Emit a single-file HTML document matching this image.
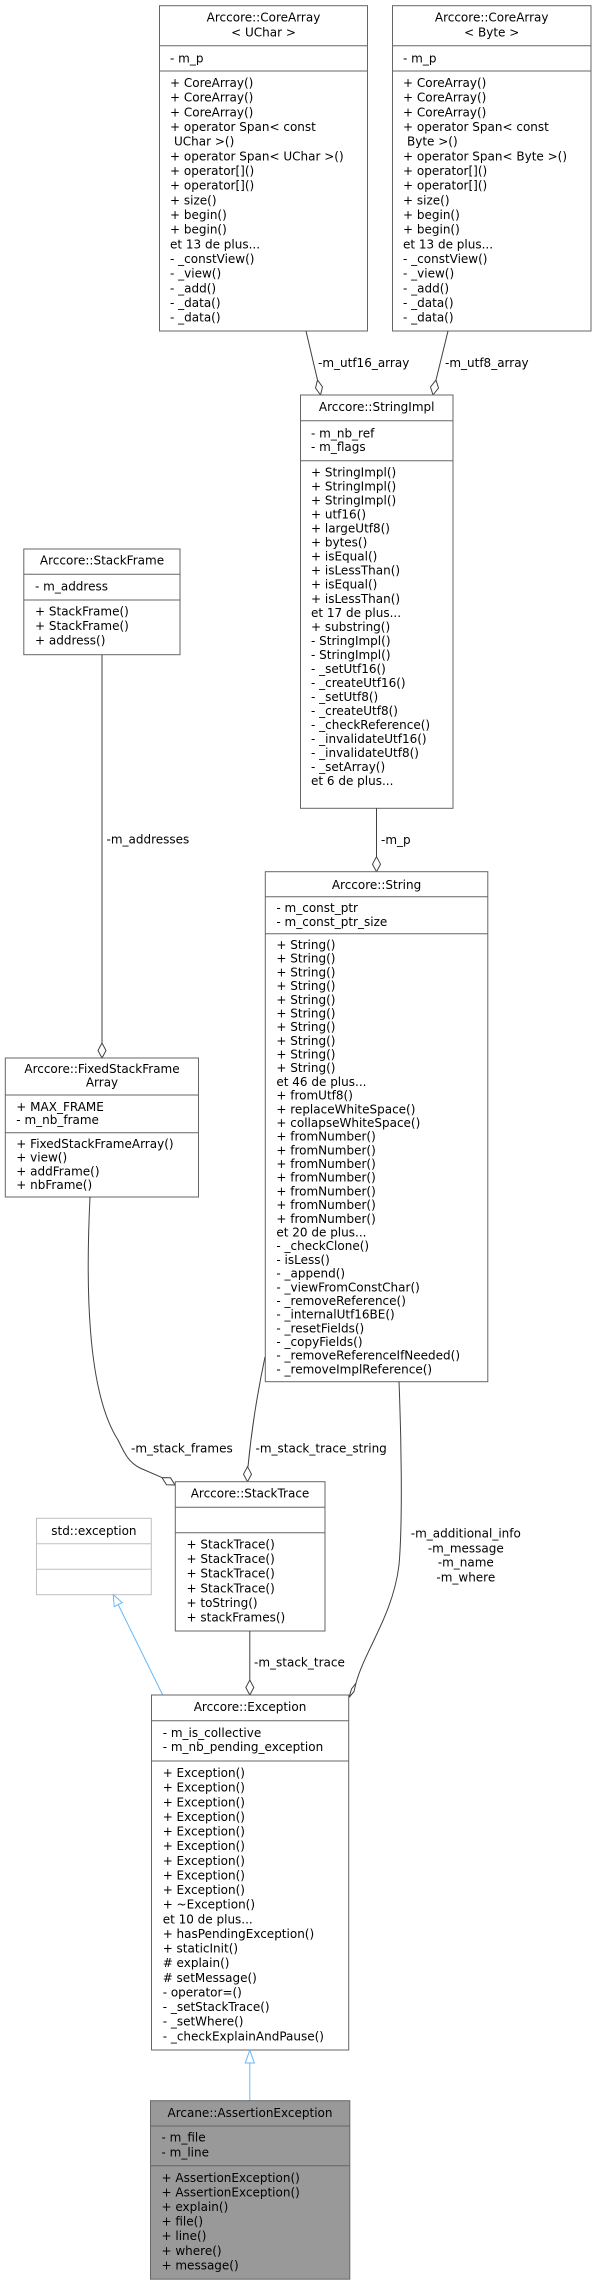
<!DOCTYPE html>
<html><head><meta charset="utf-8"><style>
html,body{margin:0;padding:0;background:#fff;}
svg{display:block;}
text{font-family:"DejaVu Sans","Liberation Sans",sans-serif;font-size:12px;fill:#000;}
.b{fill:#fff;stroke:#666;stroke-width:1;}
.l{stroke:#666;stroke-width:1;}
.e{fill:none;stroke:#404040;stroke-width:1;}
.d{fill:#fff;stroke:#404040;stroke-width:1;}
.bl{fill:none;stroke:#63b8ff;stroke-width:1;}
.bt{fill:#fff;stroke:#63b8ff;stroke-width:1;}
.m{text-anchor:middle;}
</style></head><body>
<svg width="596" height="2285" viewBox="0 0 596 2285" xmlns="http://www.w3.org/2000/svg">

<!-- CoreArray<UChar> -->
<rect class="b" x="159.5" y="5.7" width="208" height="325.3"/>
<line class="l" x1="159.5" y1="45.7" x2="367.5" y2="45.7"/>
<line class="l" x1="159.5" y1="71" x2="367.5" y2="71"/>
<text class="m" x="263.5" y="21.5">Arccore::CoreArray</text>
<text class="m" x="263.5" y="36.5">&lt; UChar &gt;</text>
<text x="170" y="62.5">- m_p</text>
<text x="170" y="87"><tspan x="170">+ CoreArray()</tspan><tspan x="170" dy="14.67">+ CoreArray()</tspan><tspan x="170" dy="14.67">+ CoreArray()</tspan><tspan x="170" dy="14.67">+ operator Span&lt; const</tspan><tspan x="174" dy="14.67">UChar &gt;()</tspan><tspan x="170" dy="14.67">+ operator Span&lt; UChar &gt;()</tspan><tspan x="170" dy="14.67">+ operator[]()</tspan><tspan x="170" dy="14.67">+ operator[]()</tspan><tspan x="170" dy="14.67">+ size()</tspan><tspan x="170" dy="14.67">+ begin()</tspan><tspan x="170" dy="14.67">+ begin()</tspan><tspan x="170" dy="14.67">et 13 de plus...</tspan><tspan x="170" dy="14.67">- _constView()</tspan><tspan x="170" dy="14.67">- _view()</tspan><tspan x="170" dy="14.67">- _add()</tspan><tspan x="170" dy="14.67">- _data()</tspan><tspan x="170" dy="14.67">- _data()</tspan></text>

<!-- CoreArray<Byte> -->
<rect class="b" x="392.5" y="5.7" width="198.5" height="325.3"/>
<line class="l" x1="392.5" y1="45.7" x2="591" y2="45.7"/>
<line class="l" x1="392.5" y1="71" x2="591" y2="71"/>
<text class="m" x="491.7" y="21.5">Arccore::CoreArray</text>
<text class="m" x="491.7" y="36.5">&lt; Byte &gt;</text>
<text x="403" y="62.5">- m_p</text>
<text x="403" y="87"><tspan x="403">+ CoreArray()</tspan><tspan x="403" dy="14.67">+ CoreArray()</tspan><tspan x="403" dy="14.67">+ CoreArray()</tspan><tspan x="403" dy="14.67">+ operator Span&lt; const</tspan><tspan x="407" dy="14.67">Byte &gt;()</tspan><tspan x="403" dy="14.67">+ operator Span&lt; Byte &gt;()</tspan><tspan x="403" dy="14.67">+ operator[]()</tspan><tspan x="403" dy="14.67">+ operator[]()</tspan><tspan x="403" dy="14.67">+ size()</tspan><tspan x="403" dy="14.67">+ begin()</tspan><tspan x="403" dy="14.67">+ begin()</tspan><tspan x="403" dy="14.67">et 13 de plus...</tspan><tspan x="403" dy="14.67">- _constView()</tspan><tspan x="403" dy="14.67">- _view()</tspan><tspan x="403" dy="14.67">- _add()</tspan><tspan x="403" dy="14.67">- _data()</tspan><tspan x="403" dy="14.67">- _data()</tspan></text>

<!-- edges to StringImpl -->
<path class="e" d="M306,331 L317.5,380"/>
<polygon class="d" points="320.5,395 315.5,388 317.5,380 322.5,387"/>
<text x="318" y="367">-m_utf16_array</text>
<path class="e" d="M448,331 L436,380"/>
<polygon class="d" points="433,395 430.5,387 436,380 438.5,388"/>
<text x="445" y="367">-m_utf8_array</text>

<!-- StringImpl -->
<rect class="b" x="300.5" y="395" width="152.5" height="413.3"/>
<line class="l" x1="300.5" y1="420.7" x2="453" y2="420.7"/>
<line class="l" x1="300.5" y1="460.7" x2="453" y2="460.7"/>
<text class="m" x="376.7" y="411">Arccore::StringImpl</text>
<text x="311" y="437.3"><tspan x="311">- m_nb_ref</tspan><tspan x="311" dy="13.9">- m_flags</tspan></text>
<text x="311" y="476.5"><tspan x="311">+ StringImpl()</tspan><tspan x="311" dy="14.03">+ StringImpl()</tspan><tspan x="311" dy="14.03">+ StringImpl()</tspan><tspan x="311" dy="14.03">+ utf16()</tspan><tspan x="311" dy="14.03">+ largeUtf8()</tspan><tspan x="311" dy="14.03">+ bytes()</tspan><tspan x="311" dy="14.03">+ isEqual()</tspan><tspan x="311" dy="14.03">+ isLessThan()</tspan><tspan x="311" dy="14.03">+ isEqual()</tspan><tspan x="311" dy="14.03">+ isLessThan()</tspan><tspan x="311" dy="14.03">et 17 de plus...</tspan><tspan x="311" dy="14.03">+ substring()</tspan><tspan x="311" dy="14.03">- StringImpl()</tspan><tspan x="311" dy="14.03">- StringImpl()</tspan><tspan x="311" dy="14.03">- _setUtf16()</tspan><tspan x="311" dy="14.03">- _createUtf16()</tspan><tspan x="311" dy="14.03">- _setUtf8()</tspan><tspan x="311" dy="14.03">- _createUtf8()</tspan><tspan x="311" dy="14.03">- _checkReference()</tspan><tspan x="311" dy="14.03">- _invalidateUtf16()</tspan><tspan x="311" dy="14.03">- _invalidateUtf8()</tspan><tspan x="311" dy="14.03">- _setArray()</tspan><tspan x="311" dy="14.03">et 6 de plus...</tspan></text>

<!-- StringImpl -> String -->
<path class="e" d="M376.5,808.3 L376.5,856.7"/>
<polygon class="d" points="376.5,871.7 372.5,864.2 376.5,856.7 380.5,864.2"/>
<text x="381" y="844">-m_p</text>

<!-- StackFrame -->
<rect class="b" x="23.8" y="549" width="156.2" height="105.7"/>
<line class="l" x1="23.8" y1="574.3" x2="180" y2="574.3"/>
<line class="l" x1="23.8" y1="600" x2="180" y2="600"/>
<text class="m" x="102" y="564.5">Arccore::StackFrame</text>
<text x="35" y="590.5">- m_address</text>
<text x="35" y="615.5"><tspan x="35">+ StackFrame()</tspan><tspan x="35" dy="14.5">+ StackFrame()</tspan><tspan x="35" dy="14.5">+ address()</tspan></text>

<!-- StackFrame -> Fixed -->
<path class="e" d="M102,654.7 L102,1043"/>
<polygon class="d" points="102,1058 98,1050.5 102,1043 106,1050.5"/>
<text x="106.5" y="843.3">-m_addresses</text>

<!-- String -->
<rect class="b" x="265.3" y="871.7" width="222.5" height="510"/>
<line class="l" x1="265.3" y1="896.7" x2="487.8" y2="896.7"/>
<line class="l" x1="265.3" y1="933.7" x2="487.8" y2="933.7"/>
<text class="m" x="376.5" y="889">Arccore::String</text>
<text x="276.4" y="912"><tspan x="276.4">- m_const_ptr</tspan><tspan x="276.4" dy="14">- m_const_ptr_size</tspan></text>
<text x="276.4" y="949"><tspan x="276.4">+ String()</tspan><tspan x="276.4" dy="13.69">+ String()</tspan><tspan x="276.4" dy="13.69">+ String()</tspan><tspan x="276.4" dy="13.69">+ String()</tspan><tspan x="276.4" dy="13.69">+ String()</tspan><tspan x="276.4" dy="13.69">+ String()</tspan><tspan x="276.4" dy="13.69">+ String()</tspan><tspan x="276.4" dy="13.69">+ String()</tspan><tspan x="276.4" dy="13.69">+ String()</tspan><tspan x="276.4" dy="13.69">+ String()</tspan><tspan x="276.4" dy="13.69">et 46 de plus...</tspan><tspan x="276.4" dy="13.69">+ fromUtf8()</tspan><tspan x="276.4" dy="13.69">+ replaceWhiteSpace()</tspan><tspan x="276.4" dy="13.69">+ collapseWhiteSpace()</tspan><tspan x="276.4" dy="13.69">+ fromNumber()</tspan><tspan x="276.4" dy="13.69">+ fromNumber()</tspan><tspan x="276.4" dy="13.69">+ fromNumber()</tspan><tspan x="276.4" dy="13.69">+ fromNumber()</tspan><tspan x="276.4" dy="13.69">+ fromNumber()</tspan><tspan x="276.4" dy="13.69">+ fromNumber()</tspan><tspan x="276.4" dy="13.69">+ fromNumber()</tspan><tspan x="276.4" dy="13.69">et 20 de plus...</tspan><tspan x="276.4" dy="13.69">- _checkClone()</tspan><tspan x="276.4" dy="13.69">- isLess()</tspan><tspan x="276.4" dy="13.69">- _append()</tspan><tspan x="276.4" dy="13.69">- _viewFromConstChar()</tspan><tspan x="276.4" dy="13.69">- _removeReference()</tspan><tspan x="276.4" dy="13.69">- _internalUtf16BE()</tspan><tspan x="276.4" dy="13.69">- _resetFields()</tspan><tspan x="276.4" dy="13.69">- _copyFields()</tspan><tspan x="276.4" dy="13.69">- _removeReferenceIfNeeded()</tspan><tspan x="276.4" dy="13.69">- _removeImplReference()</tspan></text>

<!-- FixedStackFrameArray -->
<rect class="b" x="5.3" y="1058" width="193.2" height="139"/>
<line class="l" x1="5.3" y1="1095" x2="198.5" y2="1095"/>
<line class="l" x1="5.3" y1="1132.7" x2="198.5" y2="1132.7"/>
<text class="m" x="102" y="1073.2">Arccore::FixedStackFrame</text>
<text class="m" x="102" y="1086.5">Array</text>
<text x="16.3" y="1111"><tspan x="16.3">+ MAX_FRAME</tspan><tspan x="16.3" dy="13">- m_nb_frame</tspan></text>
<text x="16.3" y="1148"><tspan x="16.3">+ FixedStackFrameArray()</tspan><tspan x="16.3" dy="13.67">+ view()</tspan><tspan x="16.3" dy="13.67">+ addFrame()</tspan><tspan x="16.3" dy="13.67">+ nbFrame()</tspan></text>

<!-- Fixed -> StackTrace -->
<path class="e" d="M90,1197 C86,1280 86,1390 118,1440 C124,1452 128,1462 140,1468 L162,1477.6"/>
<polygon class="d" points="175,1485 166.5,1484.8 162,1477.6 170.5,1477.8"/>
<text x="131" y="1452.3">-m_stack_frames</text>

<!-- String -> StackTrace -->
<path class="e" d="M265,1357 C258,1390 252,1425 248,1466.7"/>
<polygon class="d" points="247.5,1481.7 243.5,1474.2 247.5,1466.7 251.5,1474.2"/>
<text x="255.5" y="1452.3">-m_stack_trace_string</text>

<!-- String -> Exception -->
<path class="e" d="M399,1381.7 C401,1430 403,1520 399,1565 C393,1615 365,1650 356,1683"/>
<polygon class="d" points="349,1697.5 351.5,1689 356,1683 354,1691.5"/>
<text class="m" x="465.8" y="1537.3">-m_additional_info</text>
<text class="m" x="465.8" y="1552.7">-m_message</text>
<text class="m" x="465.8" y="1566.7">-m_name</text>
<text class="m" x="465.8" y="1581.7">-m_where</text>

<!-- StackTrace -->
<rect class="b" x="175.3" y="1481.7" width="149.7" height="149.3"/>
<line class="l" x1="175.3" y1="1507.3" x2="325" y2="1507.3"/>
<line class="l" x1="175.3" y1="1532.7" x2="325" y2="1532.7"/>
<text class="m" x="250" y="1497.5">Arccore::StackTrace</text>
<text x="186.5" y="1548.5"><tspan x="186.5">+ StackTrace()</tspan><tspan x="186.5" dy="14.6">+ StackTrace()</tspan><tspan x="186.5" dy="14.6">+ StackTrace()</tspan><tspan x="186.5" dy="14.6">+ StackTrace()</tspan><tspan x="186.5" dy="14.6">+ toString()</tspan><tspan x="186.5" dy="14.6">+ stackFrames()</tspan></text>

<!-- StackTrace -> Exception -->
<path class="e" d="M249.8,1631 L249.8,1680"/>
<polygon class="d" points="249.8,1695 245.8,1687.5 249.8,1680 253.8,1687.5"/>
<text x="254" y="1666.3">-m_stack_trace</text>

<!-- std::exception -->
<rect x="36.5" y="1518.3" width="114.8" height="76.4" fill="#fff" stroke="#bfbfbf"/>
<line x1="36.5" y1="1543.7" x2="151.3" y2="1543.7" stroke="#bfbfbf"/>
<line x1="36.5" y1="1569.3" x2="151.3" y2="1569.3" stroke="#bfbfbf"/>
<text class="m" x="93.9" y="1535">std::exception</text>

<!-- inheritance std::exception <- Exception -->
<path class="bl" d="M162.7,1695 L118.2,1604.6"/>
<polygon class="bt" points="113.3,1594.7 114.2,1606.6 122.2,1602.6"/>

<!-- Exception -->
<rect class="b" x="151.5" y="1695" width="197.2" height="355"/>
<line class="l" x1="151.5" y1="1720.7" x2="348.7" y2="1720.7"/>
<line class="l" x1="151.5" y1="1761" x2="348.7" y2="1761"/>
<text class="m" x="250" y="1711">Arccore::Exception</text>
<text x="162.7" y="1737"><tspan x="162.7">- m_is_collective</tspan><tspan x="162.7" dy="14">- m_nb_pending_exception</tspan></text>
<text x="162.7" y="1777"><tspan x="162.7">+ Exception()</tspan><tspan x="162.7" dy="14.63">+ Exception()</tspan><tspan x="162.7" dy="14.63">+ Exception()</tspan><tspan x="162.7" dy="14.63">+ Exception()</tspan><tspan x="162.7" dy="14.63">+ Exception()</tspan><tspan x="162.7" dy="14.63">+ Exception()</tspan><tspan x="162.7" dy="14.63">+ Exception()</tspan><tspan x="162.7" dy="14.63">+ Exception()</tspan><tspan x="162.7" dy="14.63">+ Exception()</tspan><tspan x="162.7" dy="14.63">+ ~Exception()</tspan><tspan x="162.7" dy="14.63">et 10 de plus...</tspan><tspan x="162.7" dy="14.63">+ hasPendingException()</tspan><tspan x="162.7" dy="14.63">+ staticInit()</tspan><tspan x="162.7" dy="14.63"># explain()</tspan><tspan x="162.7" dy="14.63"># setMessage()</tspan><tspan x="162.7" dy="14.63">- operator=()</tspan><tspan x="162.7" dy="14.63">- _setStackTrace()</tspan><tspan x="162.7" dy="14.63">- _setWhere()</tspan><tspan x="162.7" dy="14.63">- _checkExplainAndPause()</tspan></text>

<!-- inheritance Exception <- AssertionException -->
<path class="bl" d="M249.8,2100.7 L249.8,2063"/>
<polygon class="bt" points="249.8,2050 245.3,2063 254.3,2063"/>

<!-- AssertionException -->
<rect x="150.5" y="2100.7" width="199.3" height="178.5" fill="#999999" stroke="#666"/>
<line class="l" x1="150.5" y1="2126" x2="349.8" y2="2126"/>
<line class="l" x1="150.5" y1="2165.7" x2="349.8" y2="2165.7"/>
<text class="m" x="250" y="2117">Arcane::AssertionException</text>
<text x="161.5" y="2141.5"><tspan x="161.5">- m_file</tspan><tspan x="161.5" dy="15">- m_line</tspan></text>
<text x="161.5" y="2182"><tspan x="161.5">+ AssertionException()</tspan><tspan x="161.5" dy="14.55">+ AssertionException()</tspan><tspan x="161.5" dy="14.55">+ explain()</tspan><tspan x="161.5" dy="14.55">+ file()</tspan><tspan x="161.5" dy="14.55">+ line()</tspan><tspan x="161.5" dy="14.55">+ where()</tspan><tspan x="161.5" dy="14.55">+ message()</tspan></text>
</svg>
</body></html>
